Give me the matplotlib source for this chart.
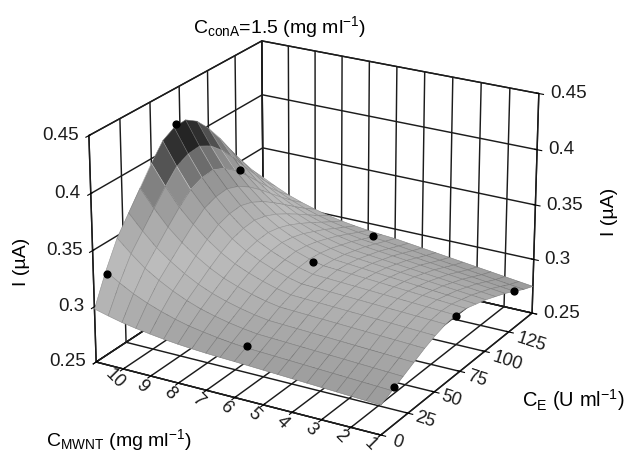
import numpy as np
import matplotlib
matplotlib.use("Agg")
import matplotlib.pyplot as plt
from matplotlib.colors import LinearSegmentedColormap, Normalize
from mpl_toolkits.mplot3d import proj3d

plt.rcParams['font.family'] = ['Liberation Sans', 'DejaVu Sans']
plt.rcParams['mathtext.fontset'] = 'custom'
plt.rcParams['mathtext.rm'] = 'Liberation Sans'
plt.rcParams['mathtext.default'] = 'rm'
plt.rcParams['grid.color'] = '#1c1c1c'
plt.rcParams['grid.linewidth'] = 1.05
plt.rcParams['axes.linewidth'] = 1.0

x_ticks = [0, 1, 2, 3, 4, 5, 6, 7, 8, 9, 10]
x_labels = ['', '1', '2', '3', '4', '5', '6', '7', '8', '9', '10']
y_ticks = [0, 25, 50, 75, 100, 125, 150]
y_labels = ['0', '25', '50', '75', '100', '125', '']
z_ticks = [0.25, 0.30, 0.35, 0.40, 0.45]
z_labels = ['0.25', '0.3', '0.35', '0.4', '0.45']

x_grid = [0, .5, 1, 1.5, 2, 2.5, 3, 3.5, 4, 4.5, 5, 5.5, 6, 6.5, 7, 7.5, 8, 8.5, 9, 9.5, 10]
y_grid = [0, 10, 20, 30, 40, 50, 60, 70, 80, 90, 100, 110, 120, 130, 140, 150]
current = [
 [.2760,.2766,.2772,.2778,.2784,.2790,.2796,.2802,.2808,.2814,.2820,.2825,.2831,.2839,.2849,.2862,.2878,.2897,.2919,.2948,.2980],
 [.2810,.2816,.2822,.2828,.2834,.2840,.2846,.2852,.2858,.2864,.2870,.2881,.2897,.2916,.2938,.2969,.3007,.3052,.3106,.3174,.3250],
 [.2860,.2866,.2872,.2878,.2884,.2890,.2896,.2902,.2908,.2914,.2920,.2937,.2959,.2987,.3021,.3066,.3122,.3189,.3267,.3368,.3480],
 [.2910,.2916,.2922,.2928,.2934,.2940,.2946,.2952,.2958,.2964,.2970,.2990,.3017,.3050,.3091,.3144,.3211,.3292,.3385,.3506,.3640],
 [.2960,.2966,.2972,.2978,.2984,.2990,.2996,.3002,.3008,.3014,.3020,.3043,.3075,.3114,.3160,.3223,.3301,.3394,.3504,.3644,.3800],
 [.3000,.3006,.3012,.3018,.3024,.3030,.3036,.3042,.3048,.3054,.3060,.3087,.3123,.3168,.3222,.3294,.3384,.3492,.3618,.3780,.3960],
 [.3030,.3036,.3042,.3048,.3054,.3060,.3066,.3072,.3078,.3084,.3090,.3120,.3161,.3211,.3272,.3353,.3454,.3575,.3716,.3898,.4100],
 [.3040,.3047,.3054,.3061,.3068,.3075,.3082,.3089,.3096,.3103,.3110,.3142,.3184,.3236,.3299,.3383,.3488,.3614,.3761,.3950,.4160],
 [.3030,.3039,.3048,.3057,.3066,.3075,.3084,.3093,.3102,.3111,.3120,.3152,.3194,.3246,.3309,.3393,.3498,.3624,.3771,.3960,.4170],
 [.3000,.3011,.3022,.3033,.3044,.3055,.3066,.3077,.3088,.3099,.3110,.3140,.3179,.3229,.3288,.3367,.3466,.3585,.3724,.3902,.4100],
 [.2970,.2982,.2994,.3006,.3018,.3030,.3042,.3054,.3066,.3078,.3090,.3117,.3152,.3197,.3250,.3321,.3410,.3517,.3642,.3802,.3980],
 [.2930,.2943,.2956,.2969,.2982,.2995,.3008,.3021,.3034,.3047,.3060,.3083,.3114,.3152,.3199,.3260,.3337,.3430,.3537,.3676,.3830],
 [.2890,.2904,.2918,.2932,.2946,.2960,.2974,.2988,.3002,.3016,.3030,.3049,.3074,.3106,.3143,.3194,.3257,.3332,.3421,.3534,.3660],
 [.2840,.2855,.2870,.2885,.2900,.2915,.2930,.2945,.2960,.2975,.2990,.3005,.3026,.3051,.3082,.3123,.3174,.3235,.3306,.3398,.3500],
 [.2790,.2806,.2822,.2838,.2854,.2870,.2886,.2902,.2918,.2934,.2950,.2962,.2978,.2998,.3022,.3054,.3094,.3142,.3198,.3270,.3350],
 [.2750,.2766,.2782,.2798,.2814,.2830,.2846,.2862,.2878,.2894,.2910,.2919,.2932,.2947,.2966,.2991,.3022,.3059,.3102,.3158,.3220],
]
dots_x = [10, 10, 10, 5.8, 5.2, 5.0, 0, 0, 0]
dots_y = [11, 72, 128, 150, 75, 11, 12, 70, 130]
dots_z = [.322, .418, .342, .289, .318, .288, .283, .303, .284]

X, Y = np.meshgrid(x_grid, y_grid)
Z = np.array(current)

fig = plt.figure(figsize=(6.25, 4.53), dpi=100)
ax = fig.add_axes([85.5/625, -7.0/453, 453/625, 1], projection='3d', computed_zorder=False)
ax.set_proj_type('persp', focal_length=1.2)
ax.view_init(elev=22.6, azim=-60)
ax.set_box_aspect((1, 1, 0.745), zoom=1.11)
ax.set_xlim(10, 0, view_margin=0)
ax.set_ylim(0, 150, view_margin=0)
ax.set_zlim(0.25, 0.45, view_margin=0)

cmap = LinearSegmentedColormap.from_list('surf', [
    (0.00, '#9a9a9a'), (0.25, '#b4b4b4'), (0.40, '#bcbcbc'), (0.60, '#a8a8a8'),
    (0.75, '#8c8c8c'), (0.87, '#585858'), (1.00, '#161616')])
norm = Normalize(0.275, 0.410)
zc = 0.25 * (Z[:-1, :-1] + Z[1:, :-1] + Z[:-1, 1:] + Z[1:, 1:])
face = cmap(norm(zc))
surf = ax.plot_surface(X, Y, Z, rstride=1, cstride=1, facecolors=face,
                       shade=False, linewidth=0.4, antialiased=True, zorder=2)
edge = face.copy()
edge[..., :3] = np.where(zc[..., None] > 0.37, np.minimum(face[..., :3] + 0.22, 1),
                         face[..., :3] - 0.15)
surf.set_edgecolor(edge.reshape(-1, 4))

ax.scatter(dots_x, dots_y, dots_z, s=24, c='black', depthshade=False, zorder=5)

ax.set_xticks(x_ticks, labels=[''] * len(x_ticks))
ax.set_yticks(y_ticks, labels=[''] * len(y_ticks))
ax.set_zticks(z_ticks, labels=[''] * len(z_ticks))
ax.zaxis.set_ticks_position('both')
for a in (ax.xaxis, ax.yaxis, ax.zaxis):
    a.set_pane_color((1, 1, 1, 1))
    a.pane.set_edgecolor('#1c1c1c')
    a.line.set_color('#1c1c1c')

# Tick labels sit beside their ticks, as in the reference.
proj = ax.get_proj()
def tick_label(x, y, z, text, off, rotation=0, ha='center', size=13):
    px, py, _ = proj3d.proj_transform(x, y, z, proj)
    ax.annotate(text, xy=(px, py), xytext=off, textcoords='offset pixels', rotation=rotation,
                fontsize=size, ha=ha, va='center', color='#1c1c1c', annotation_clip=False, zorder=6)

for tx, lab in zip(x_ticks, x_labels):
    tick_label(tx, 0, 0.25, lab, (19, -17), rotation=-45)
for ty, lab in zip(y_ticks, y_labels):
    tick_label(0, ty, 0.25, lab, (23, -10) if len(lab) == 3 else (17, -7), rotation=-18)
for tz, lab in zip(z_ticks, z_labels):
    tick_label(10, 0, tz, lab, (-10, 0), ha='right', size=13.5)
    tick_label(0, 150, tz, lab, (11, 0), ha='left', size=13.5)

fig.text(279/625, 1 - 27/453, r'C$_{\mathrm{conA}}$=1.5 (mg ml$^{\mathrm{-1}}$)', ha='center', va='center', fontsize=14)
fig.text(22/625, 1 - 262/453, 'I (µA)', rotation=90, ha='center', va='center', fontsize=14)
fig.text(610/625, 1 - 212/453, 'I (µA)', rotation=90, ha='center', va='center', fontsize=14)
fig.text(119/625, 1 - 440/453, r'C$_{\mathrm{MWNT}}$ (mg ml$^{\mathrm{-1}}$)', ha='center', va='center', fontsize=14)
fig.text(573/625, 1 - 400/453, r'C$_{\mathrm{E}}$ (U ml$^{\mathrm{-1}}$)', ha='center', va='center', fontsize=14.5)

fig.savefig('out.png', dpi=100)
